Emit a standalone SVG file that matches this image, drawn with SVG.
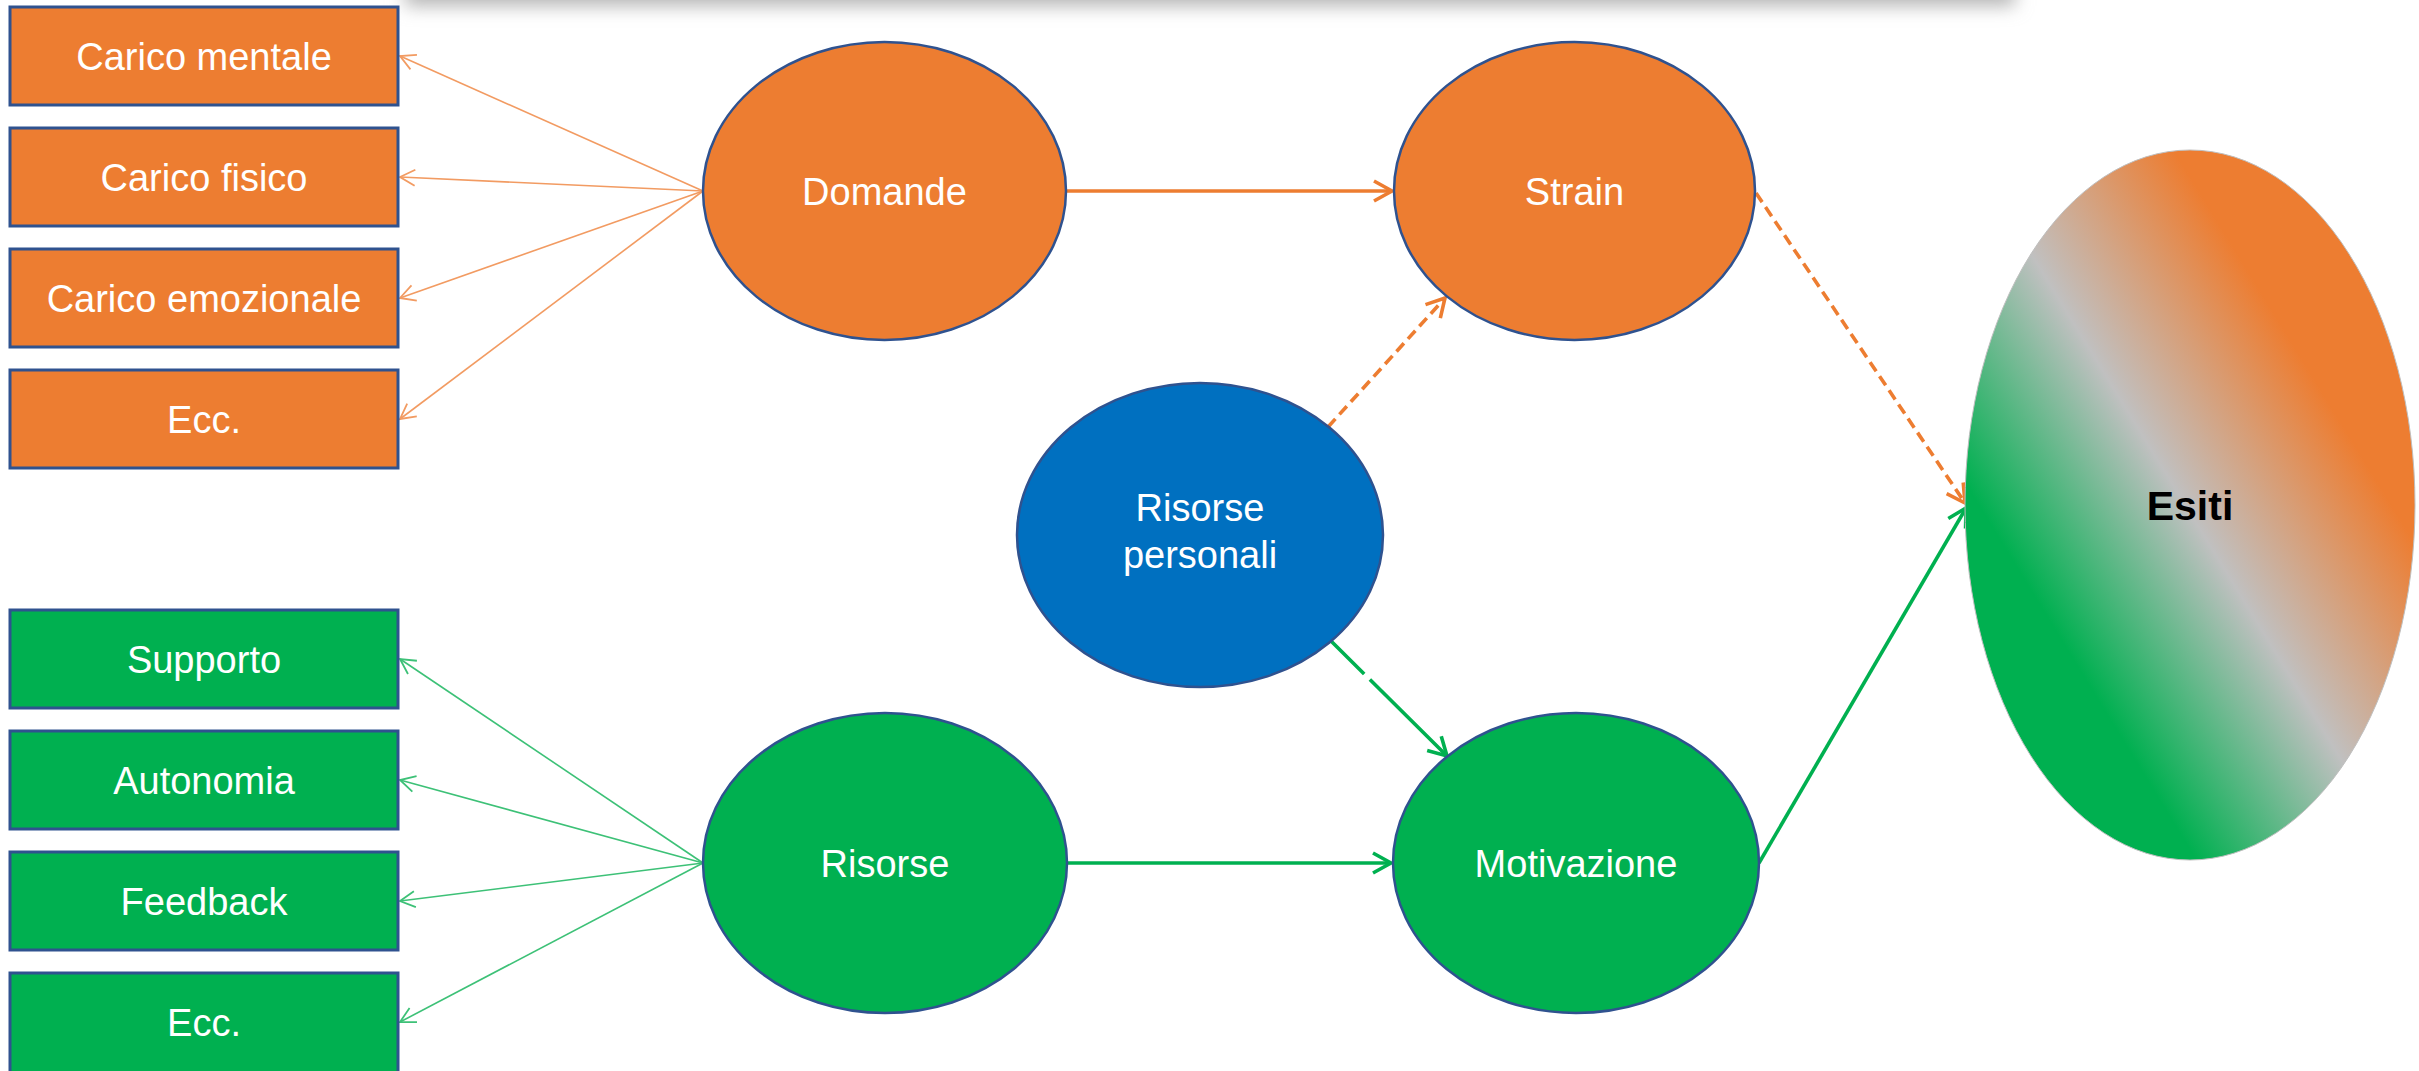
<svg xmlns="http://www.w3.org/2000/svg" width="2419" height="1071" viewBox="0 0 2419 1071">
<style>
.box-o{fill:#ED7D31;stroke:#2F528F;stroke-width:3}
.box-g{fill:#00B050;stroke:#2F528F;stroke-width:3}
.ell{stroke:#2F528F;stroke-width:2.5}
.lbl{font-family:"Liberation Sans",Arial,sans-serif;font-size:38px;fill:#FFFFFF;text-anchor:middle}
.thin-o{stroke:#F29B62;stroke-width:1.6;fill:none}
.thin-g{stroke:#3DC177;stroke-width:1.6;fill:none}
.thick-o{stroke:#ED7D31;stroke-width:3.6;fill:none}
.thick-g{stroke:#00B050;stroke-width:3.6;fill:none}
</style>
<defs>
<filter id="blur" x="-10%" y="-200%" width="120%" height="500%"><feGaussianBlur stdDeviation="9"/></filter>
<marker id="ao1" markerUnits="userSpaceOnUse" markerWidth="40" markerHeight="40" viewBox="-20 -20 40 40" refX="0" refY="0" orient="auto"><path d="M-15,-8 L0,0 L-15,8" fill="none" stroke="#F29B62" stroke-width="1.8"/></marker>
<marker id="ag1" markerUnits="userSpaceOnUse" markerWidth="40" markerHeight="40" viewBox="-20 -20 40 40" refX="0" refY="0" orient="auto"><path d="M-15,-8 L0,0 L-15,8" fill="none" stroke="#3DC177" stroke-width="1.8"/></marker>
<marker id="ao3" markerUnits="userSpaceOnUse" markerWidth="50" markerHeight="50" viewBox="-25 -25 50 50" refX="0" refY="0" orient="auto"><path d="M-18,-10 L0,0 L-18,10" fill="none" stroke="#ED7D31" stroke-width="3.6"/></marker>
<marker id="ag3" markerUnits="userSpaceOnUse" markerWidth="50" markerHeight="50" viewBox="-25 -25 50 50" refX="0" refY="0" orient="auto"><path d="M-18,-10 L0,0 L-18,10" fill="none" stroke="#00B050" stroke-width="3.6"/></marker>
<linearGradient id="esitiGrad" gradientUnits="userSpaceOnUse" x1="2040" y1="605" x2="2340" y2="421">
<stop offset="0" stop-color="#00B050"/>
<stop offset="0.5" stop-color="#C0C0C0"/>
<stop offset="1" stop-color="#ED7D31"/>
</linearGradient>
</defs>
<rect width="2419" height="1071" fill="#FFFFFF"/>
<rect x="405" y="-40" width="1610" height="46" fill="#b5b5b5" filter="url(#blur)"/>

<g id="connectors">
<line class="thin-o" x1="703" y1="191" x2="400" y2="56" marker-end="url(#ao1)"/>
<line class="thin-o" x1="703" y1="191" x2="400" y2="177" marker-end="url(#ao1)"/>
<line class="thin-o" x1="703" y1="191" x2="400" y2="298" marker-end="url(#ao1)"/>
<line class="thin-o" x1="703" y1="191" x2="400" y2="419" marker-end="url(#ao1)"/>
<line class="thin-g" x1="703" y1="863" x2="400" y2="659" marker-end="url(#ag1)"/>
<line class="thin-g" x1="703" y1="863" x2="400" y2="780" marker-end="url(#ag1)"/>
<line class="thin-g" x1="703" y1="863" x2="400" y2="901" marker-end="url(#ag1)"/>
<line class="thin-g" x1="703" y1="863" x2="400" y2="1022" marker-end="url(#ag1)"/>
<line class="thick-o" x1="1066" y1="191" x2="1392" y2="191" marker-end="url(#ao3)"/>
<line class="thick-g" x1="1067" y1="863" x2="1391" y2="863" marker-end="url(#ag3)"/>
<line class="thick-o" x1="1756" y1="193" x2="1965" y2="503" stroke-dasharray="11 6" marker-end="url(#ao3)"/>
<line class="thick-g" x1="1759" y1="863" x2="1966" y2="508" marker-end="url(#ag3)"/>
<line class="thick-o" x1="1328" y1="427" x2="1445" y2="298" stroke-dasharray="11 6" marker-end="url(#ao3)"/>
<line class="thick-g" x1="1328" y1="638" x2="1447" y2="756" stroke-dasharray="51 8 200 0" marker-end="url(#ag3)"/>
</g>

<g id="carico-mentale"><rect class="box-o" x="10" y="7" width="388" height="98"/><text class="lbl" x="204" y="70">Carico mentale</text></g>
<g id="carico-fisico"><rect class="box-o" x="10" y="128" width="388" height="98"/><text class="lbl" x="204" y="191">Carico fisico</text></g>
<g id="carico-emozionale"><rect class="box-o" x="10" y="249" width="388" height="98"/><text class="lbl" x="204" y="312">Carico emozionale</text></g>
<g id="ecc-o"><rect class="box-o" x="10" y="370" width="388" height="98"/><text class="lbl" x="204" y="433">Ecc.</text></g>

<g id="supporto"><rect class="box-g" x="10" y="610" width="388" height="98"/><text class="lbl" x="204" y="673">Supporto</text></g>
<g id="autonomia"><rect class="box-g" x="10" y="731" width="388" height="98"/><text class="lbl" x="204" y="794">Autonomia</text></g>
<g id="feedback"><rect class="box-g" x="10" y="852" width="388" height="98"/><text class="lbl" x="204" y="915">Feedback</text></g>
<g id="ecc-g"><rect class="box-g" x="10" y="973" width="388" height="104"/><text class="lbl" x="204" y="1036">Ecc.</text></g>

<g id="domande"><ellipse class="ell" cx="884.5" cy="191" rx="181.5" ry="149" fill="#ED7D31"/><text class="lbl" x="884.5" y="205">Domande</text></g>
<g id="strain"><ellipse class="ell" cx="1574.5" cy="191" rx="180.5" ry="149" fill="#ED7D31"/><text class="lbl" x="1574.5" y="205">Strain</text></g>
<g id="risorse-personali"><ellipse class="ell" cx="1200" cy="535" rx="183" ry="152" fill="#0070C0"/><text class="lbl" x="1200" y="521">Risorse</text><text class="lbl" x="1200" y="568">personali</text></g>
<g id="risorse"><ellipse class="ell" cx="885" cy="863" rx="182" ry="150" fill="#00B050"/><text class="lbl" x="885" y="877">Risorse</text></g>
<g id="motivazione"><ellipse class="ell" cx="1576" cy="863" rx="183" ry="150" fill="#00B050"/><text class="lbl" x="1576" y="877">Motivazione</text></g>
<g id="esiti"><ellipse cx="2190" cy="505" rx="225" ry="355" fill="url(#esitiGrad)" stroke="#BFBFBF" stroke-width="1"/><text x="2190" y="520" font-family="'Liberation Sans',Arial,sans-serif" font-size="41" font-weight="bold" fill="#000000" text-anchor="middle">Esiti</text></g>
</svg>
